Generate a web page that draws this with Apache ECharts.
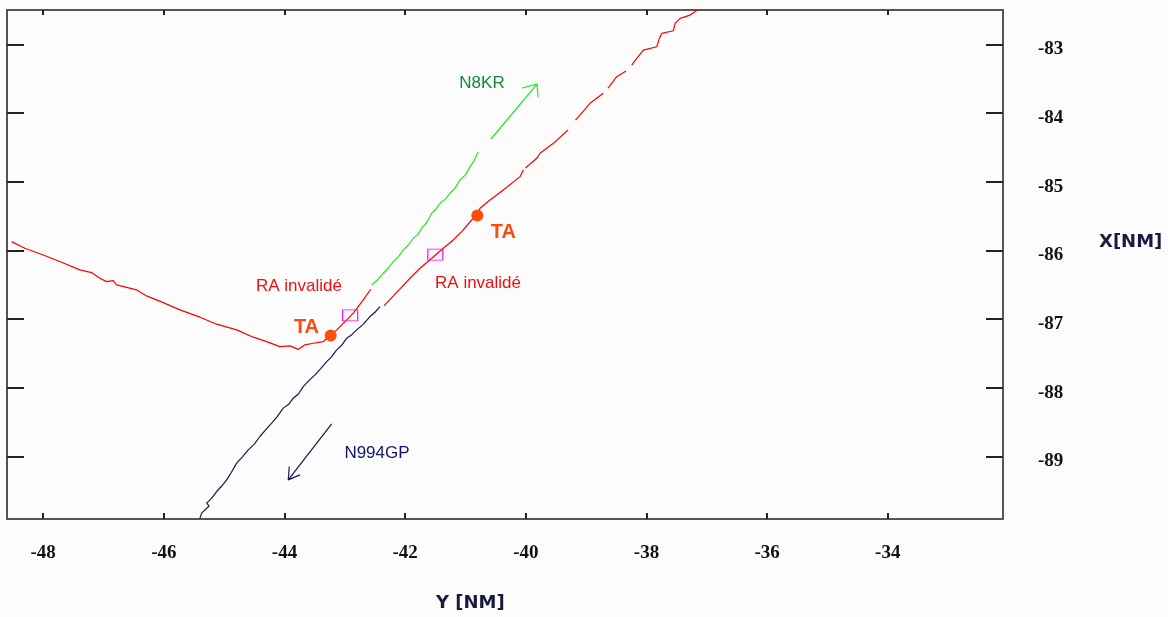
<!DOCTYPE html>
<html>
<head>
<meta charset="utf-8">
<script src="https://cdn.jsdelivr.net/npm/echarts@6/dist/echarts.min.js"></script>
<style>
html,body{margin:0;padding:0;background:#fcfcfc;}
#chart{width:1168px;height:617px;}
</style>
</head>
<body>
<div id="chart"></div>
<script>
// Axis ticks
const xTicks = [-48, -46, -44, -42, -40, -38, -36, -34];
const yTicks = [-89, -88, -87, -86, -85, -84, -83];
const xRange = [-48.6, -32.09];
const yRange = [-89.91, -82.5];

// N8KR track during RA (red), then normal track (green)
const n8krRA = [
  [-48.524,-85.872],[-48.304,-85.968],[-48.000,-86.066],[-47.695,-86.172],[-47.392,-86.284],
  [-47.198,-86.323],[-47.060,-86.405],[-46.949,-86.454],[-46.839,-86.440],[-46.783,-86.502],
  [-46.451,-86.575],[-46.286,-86.662],[-46.010,-86.760],[-45.733,-86.866],[-45.402,-86.972],
  [-45.125,-87.074],[-44.793,-87.157],[-44.518,-87.263],[-44.296,-87.327],[-44.075,-87.400],
  [-43.910,-87.390],[-43.772,-87.441],[-43.661,-87.375],[-43.523,-87.351],[-43.357,-87.327],
  [-43.235,-87.237],[-43.135,-87.157],[-42.969,-87.012],[-42.860,-86.914],[-42.694,-86.721],
  [-42.571,-86.565]
];
const n8krTrack = [
  [-42.555,-86.502],[-42.460,-86.430],[-42.363,-86.332],[-42.290,-86.270],[-42.197,-86.163],
  [-42.110,-86.090],[-42.031,-85.993],[-41.950,-85.925],[-41.865,-85.823],[-41.790,-85.770],
  [-41.726,-85.677],[-41.640,-85.590],[-41.560,-85.459],[-41.490,-85.400],[-41.422,-85.314],
  [-41.330,-85.250],[-41.257,-85.168],[-41.170,-85.090],[-41.091,-84.975],[-41.000,-84.900],
  [-40.925,-84.781],[-40.860,-84.700],[-40.787,-84.563]
];
const n8krArrow = [
  [-40.577,-84.378],[-39.814,-83.578],[-40.063,-83.636],[-39.814,-83.578],[-39.797,-83.767]
];

// N994GP track during RA (red), then normal track (navy)
const n994RA = [
  [-42.351,-86.808],[-42.086,-86.560],[-41.920,-86.405],[-41.754,-86.259],[-41.560,-86.114],
  [-41.368,-85.968],[-41.202,-85.848],[-41.063,-85.727],[-40.897,-85.557],[-40.804,-85.491],
  [-40.759,-85.386],[-40.593,-85.266],[-40.373,-85.120],[-40.096,-84.926],[-40.041,-84.829],
  null,
  [-40.005,-84.800],[-39.819,-84.659],[-39.764,-84.586],[-39.544,-84.441],[-39.300,-84.247],
  null,
  [-39.176,-84.102],[-38.935,-83.859],[-38.715,-83.713],
  null,
  [-38.637,-83.636],[-38.493,-83.471],[-38.338,-83.389],
  null,
  [-38.244,-83.301],[-38.161,-83.204],[-38.051,-83.083],[-37.829,-83.035],[-37.786,-82.913],
  [-37.746,-82.840],[-37.554,-82.802],[-37.526,-82.695],[-37.443,-82.622],[-37.277,-82.574],
  [-37.161,-82.505]
];
const n994Track = [
  [-42.417,-86.818],[-42.500,-86.900],[-42.583,-86.963],[-42.700,-87.080],[-42.804,-87.157],
  [-42.890,-87.230],[-42.969,-87.278],[-43.050,-87.380],[-43.135,-87.448],[-43.220,-87.550],
  [-43.301,-87.618],[-43.400,-87.720],[-43.495,-87.812],[-43.600,-87.900],[-43.689,-87.982],
  [-43.770,-88.090],[-43.855,-88.151],[-43.930,-88.240],[-44.021,-88.296],[-44.120,-88.420],
  [-44.213,-88.515],[-44.310,-88.610],[-44.407,-88.709],[-44.500,-88.820],[-44.601,-88.903],
  [-44.700,-89.010],[-44.793,-89.097],[-44.880,-89.230],[-44.959,-89.340],[-45.040,-89.430],
  [-45.125,-89.510],[-45.210,-89.610],[-45.291,-89.679],[-45.250,-89.720],[-45.374,-89.824],
  [-45.402,-89.897]
];
const n994Arrow = [
  [-43.218,-88.525],[-43.938,-89.340],[-43.921,-89.146],[-43.938,-89.340],[-43.744,-89.267]
];

// Events
const taPoints = [[-43.235,-87.237],[-40.804,-85.491]];
const raInvalidPoints = [[-42.911,-86.946],[-41.500,-86.061]];

// Annotation texts: [text, x, y, kind]
const annotations = [
  ['RA invalidé', -43.760, -86.517, 'ra'],
  ['RA invalidé', -40.792, -86.480, 'ra'],
  ['TA', -43.636, -87.121, 'ta'],
  ['TA', -40.373, -85.738, 'ta'],
  ['N8KR', -40.726, -83.563, 'n8kr'],
  ['N994GP', -42.467, -88.961, 'n994']
];

const labelStyles = {
  ra:   {color:'#ee1010', fontSize:17, fontWeight:'normal'},
  ta:   {color:'#ff4a0e', fontSize:20, fontWeight:'bold'},
  n8kr: {color:'#17873a', fontSize:17, fontWeight:'normal'},
  n994: {color:'#141466', fontSize:17, fontWeight:'normal'}
};

const axisLineStyle = {color:'#555', width:2};
const tickStyle = {color:'#222', width:2};
const tickFont = {fontFamily:'Liberation Serif', fontWeight:'bold', fontSize:19, color:'#111'};

function lineSeries(data, color) {
  return {type:'line', data:data, showSymbol:false, symbol:'none', connectNulls:false,
    lineStyle:{color:color, width:1.2, opacity:1}, silent:true, animation:false, z:3};
}

const chart = echarts.init(document.getElementById('chart'), null, {renderer:'canvas'});
chart.setOption({
  backgroundColor:'#fcfcfc',
  animation:false,
  grid:{left:7, top:10, width:996, height:509, containLabel:false},
  xAxis:[
    {type:'value', position:'bottom', min:xRange[0], max:xRange[1],
     axisLine:{show:true, onZero:false, lineStyle:axisLineStyle},
     axisTick:{show:true, inside:true, length:6, lineStyle:tickStyle, customValues:xTicks},
     axisLabel:Object.assign({show:true, margin:25, customValues:xTicks}, tickFont),
     splitLine:{show:false}},
    {type:'value', position:'top', min:xRange[0], max:xRange[1],
     axisLine:{show:true, onZero:false, lineStyle:axisLineStyle},
     axisTick:{show:true, inside:true, length:5, lineStyle:tickStyle, customValues:xTicks},
     axisLabel:{show:false},
     splitLine:{show:false}}
  ],
  yAxis:[
    {type:'value', position:'right', min:yRange[0], max:yRange[1],
     axisLine:{show:true, onZero:false, lineStyle:axisLineStyle},
     axisTick:{show:true, inside:true, length:17, lineStyle:tickStyle, customValues:yTicks},
     axisLabel:Object.assign({show:true, margin:35, align:'left', verticalAlign:'top', lineHeight:10, customValues:yTicks}, tickFont),
     splitLine:{show:false}},
    {type:'value', position:'left', min:yRange[0], max:yRange[1],
     axisLine:{show:true, onZero:false, lineStyle:axisLineStyle},
     axisTick:{show:true, inside:true, length:17, lineStyle:tickStyle, customValues:yTicks},
     axisLabel:{show:false},
     splitLine:{show:false}}
  ],
  graphic:[
    {type:'text', left:436, top:594, style:{text:'Y [NM]', fontFamily:'DejaVu Sans', fontWeight:'bold', fontSize:18, fill:'#1a1a40'}},
    {type:'text', left:1099, top:233, style:{text:'X[NM]', fontFamily:'DejaVu Sans', fontWeight:'bold', fontSize:18, fill:'#1a1a40'}}
  ],
  series:[
    lineSeries(n8krRA, '#ff0000'),
    lineSeries(n8krTrack, '#22e622'),
    lineSeries(n8krArrow, '#22e622'),
    lineSeries(n994RA, '#ff0000'),
    lineSeries(n994Track, '#18184e'),
    lineSeries(n994Arrow, '#18184e'),
    {type:'scatter', data:taPoints, symbol:'circle', symbolSize:12,
     itemStyle:{color:'#ff4d0a', opacity:1}, silent:true, z:5},
    {type:'scatter', data:raInvalidPoints, symbol:'rect', symbolSize:[15,11],
     itemStyle:{color:'rgba(0,0,0,0)', borderColor:'#ff00ff', borderWidth:1, opacity:1}, silent:true, z:5},
    {type:'scatter', symbolSize:0, silent:true, z:6, itemStyle:{opacity:1},
     data:annotations.map(function(a){
       return {value:[a[1], a[2]], label:Object.assign({show:true, position:'inside', formatter:a[0],
         opacity:1, fontFamily:'Liberation Sans', align:'center', verticalAlign:'middle'}, labelStyles[a[3]])};
     })}
  ]
});
</script>
</body>
</html>
